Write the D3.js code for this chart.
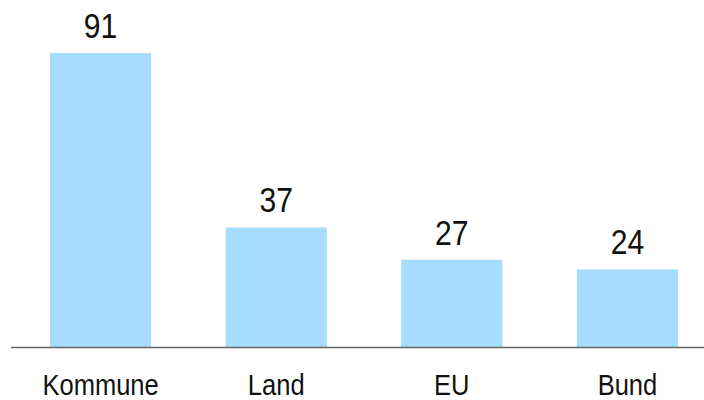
<!DOCTYPE html>
<html><head>
<meta charset="utf-8">
<script src="https://cdnjs.cloudflare.com/ajax/libs/d3/7.8.5/d3.min.js"></script>
<style>
  body { margin: 0; background: #fff; }
  text { font-family: "Liberation Sans", Arial, sans-serif; fill: #111; }
</style>
</head>
<body>
<script>
var categories = ["Kommune", "Land", "EU", "Bund"];
var values = [91, 37, 27, 24];

var width = 704, height = 400, baseY = 347;

var svg = d3.select("body").append("svg")
    .attr("width", width)
    .attr("height", height);

var x = d3.scaleBand()
    .domain(categories)
    .range([50, 678])
    .paddingInner(0.424)
    .paddingOuter(0);

var y = d3.scaleLinear()
    .domain([0, 91])
    .range([baseY, 53]);

svg.selectAll("rect.bar")
    .data(values)
    .enter().append("rect")
    .attr("class", "bar")
    .attr("x", function(d, i) { return x(categories[i]); })
    .attr("y", function(d) { return y(d); })
    .attr("width", x.bandwidth())
    .attr("height", function(d) { return baseY - y(d); })
    .attr("fill", "#a6dcff");

svg.append("line")
    .attr("x1", 11).attr("x2", width)
    .attr("y1", baseY + 0.5).attr("y2", baseY + 0.5)
    .attr("stroke", "#666")
    .attr("stroke-width", 1.5);

// narrow-looking labels: squeeze horizontally around the bar centre
svg.selectAll("text.val")
    .data(values)
    .enter().append("text")
    .attr("class", "val")
    .attr("transform", function(d, i) {
        return "translate(" + (x(categories[i]) + x.bandwidth() / 2) + "," + (y(d) - 15) + ") scale(0.86,1)";
    })
    .attr("text-anchor", "middle")
    .style("font-size", "35px")
    .text(function(d) { return d; });

svg.selectAll("text.cat")
    .data(categories)
    .enter().append("text")
    .attr("class", "cat")
    .attr("transform", function(d) {
        return "translate(" + (x(d) + x.bandwidth() / 2) + ",395) scale(0.88,1)";
    })
    .attr("text-anchor", "middle")
    .style("font-size", "29px")
    .text(function(d) { return d; });
</script>
</body></html>
